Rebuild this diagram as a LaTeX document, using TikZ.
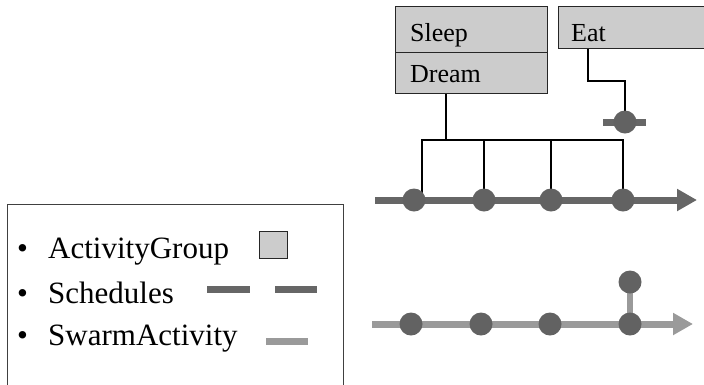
\documentclass[tikz,border=0pt]{standalone}
\usepackage{fontspec}
\setmainfont{Liberation Serif}
\usetikzlibrary{arrows.meta,backgrounds}
\definecolor{grpfill}{HTML}{CCCCCC}
\definecolor{schedcol}{HTML}{666666}
\definecolor{dotcol}{HTML}{626262}
\definecolor{swarmcol}{HTML}{9A9A9A}
\tikzset{
  grp/.style={draw=black!85, line width=1.1pt, fill=grpfill, inner sep=0pt, anchor=north west},
  boxtxt/.style={anchor=base west, inner sep=0pt, font=\fontsize{26}{30}\selectfont},
  legtxt/.style={anchor=base west, inner sep=0pt, font=\fontsize{31}{34}\selectfont},
  dot/.style={circle, fill=dotcol, minimum size=23pt, inner sep=0pt},
  conn/.style={draw=black, line width=1.2pt},
  schedline/.style={draw=schedcol, line width=7pt},
  swarmline/.style={draw=swarmcol, line width=7pt},
  schedarrow/.style={schedline, -{Triangle[length=20pt,width=21pt]}},
  swarmarrow/.style={swarmline, -{Triangle[length=20pt,width=21pt]}},
}
\begin{document}
\begin{tikzpicture}[x=1pt,y=-1pt]
\useasboundingbox (0,0) rectangle (704,384);

% activity groups
\node[grp, minimum width=152pt, minimum height=46pt] (sleep) at (395,6) {};
\node[grp, minimum width=152pt, minimum height=41pt] (dream) at (395,52) {};
\node[grp, minimum width=152pt, minimum height=42pt] (eat) at (558,6) {};
\node[boxtxt] (sleept) at (410,41) {Sleep};
\node[boxtxt] (dreamt) at (410,82) {Dream};
\node[boxtxt] (eatt) at (571,41) {Eat};

% top schedule timeline
\coordinate (ts) at (375,200);
\coordinate (te) at (697,200);
\node[dot] (s1) at (414,200) {};
\node[dot] (s2) at (484,200) {};
\node[dot] (s3) at (551,200) {};
\node[dot] (s4) at (623,200) {};
\coordinate (bus) at (446,140);
\coordinate (busl) at (422,140);

% eat schedule
\node[dot] (ec) at (625,122) {};
\coordinate (eb1) at (603,122);
\coordinate (eb2) at (646,122);
\coordinate (ek) at (588,81);

% bottom swarm timeline
\coordinate (ws) at (372,324);
\coordinate (we) at (693,324);
\node[dot] (w1) at (411,324) {};
\node[dot] (w2) at (481,324) {};
\node[dot] (w3) at (550,324) {};
\node[dot] (w4) at (630,324) {};
\node[dot] (w5) at (630,282) {};

\begin{scope}[on background layer]
  \draw[schedarrow] (ts) -- (te);
  \draw[conn] (dream.south -| bus) -- (bus);
  \draw[conn] (s1.center -| busl) -- (busl) -- (bus -| s4.center) -- (s4.center);
  \draw[conn] (s2.center) -- (s2.center |- bus);
  \draw[conn] (s3.center) -- (s3.center |- bus);
  \draw[conn] (eat.south west -| ek) -- (ek) -| (ec.center);
  \draw[schedline] (eb1) -- (eb2);
  \draw[swarmarrow] (ws) -- (we);
  \draw[swarmcol, line width=6pt] (w5.center) -- (w4.center);
\end{scope}

% legend
\node[draw=black!75, line width=1pt, minimum width=336pt, minimum height=190pt, inner sep=0pt, anchor=north west] (legend) at (7,204) {};
\node[legtxt] (b1) at (17,258) {•};
\node[legtxt] (l1) at (48,258) {ActivityGroup};
\node[legtxt] (b2) at (17,303) {•};
\node[legtxt] (l2) at (48,303) {Schedules};
\node[legtxt] (b3) at (17,345) {•};
\node[legtxt] (l3) at (48,345) {SwarmActivity};
\node[grp, minimum width=28pt, minimum height=27pt] (lsq) at (259,231) {};
\coordinate (d1a) at (207,289.5);
\coordinate (d1b) at (250,289.5);
\coordinate (d2a) at (275,289.5);
\coordinate (d2b) at (317,289.5);
\coordinate (d3a) at (266,341.5);
\coordinate (d3b) at (308,341.5);
\draw[schedline, line width=6.5pt] (d1a) -- (d1b);
\draw[schedline, line width=6.5pt] (d2a) -- (d2b);
\draw[swarmline, line width=6.5pt] (d3a) -- (d3b);
\end{tikzpicture}
\end{document}
